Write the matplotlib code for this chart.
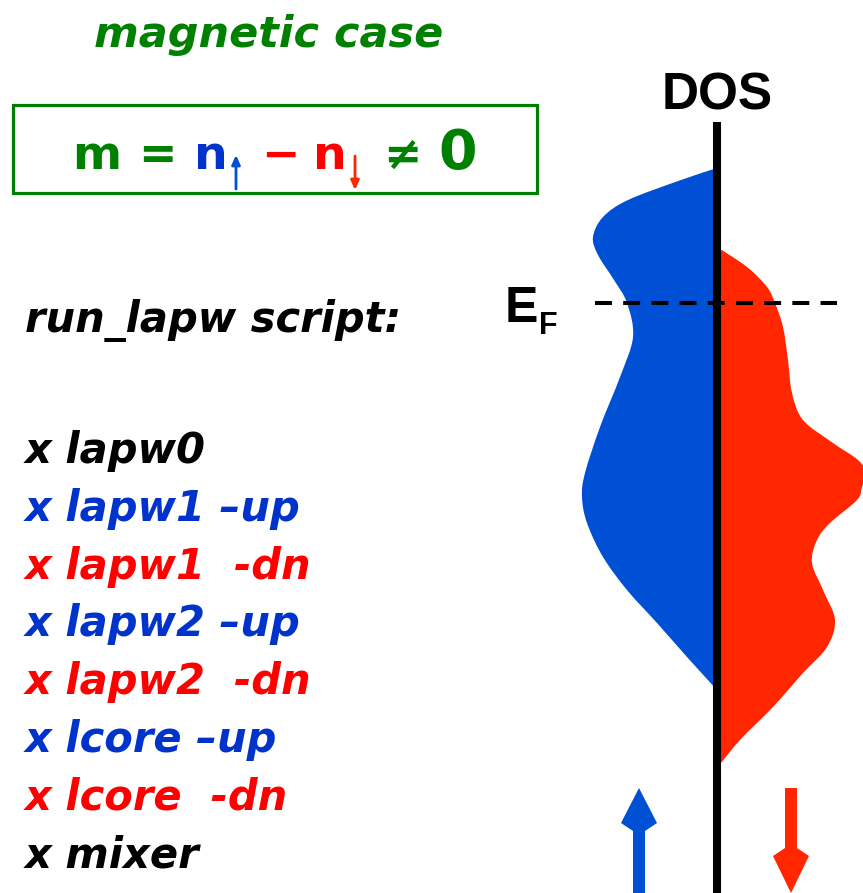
import matplotlib

matplotlib.use("Agg")
import matplotlib.pyplot as plt  # noqa: E402
import numpy as np  # noqa: E402
from matplotlib.patches import PathPatch, Polygon, Rectangle  # noqa: E402
from matplotlib.path import Path  # noqa: E402

GREEN = "#008000"
TXT_BLUE = "#0033cc"
TXT_RED = "#ff0000"
DOS_BLUE = "#0050d5"
DOS_RED = "#ff2600"

# spin-up DOS (drawn to the left), energy relative to E_F
up_energy = [1.35, 1.23, 1.03, 0.86, 0.66, 0.48, 0.23, 0.00, -0.34, -0.74, -1.24,
             -1.70, -1.94, -2.20, -2.54, -2.87, -3.20, -3.54, -3.87]
up_dos = [0.00, 0.36, 0.89, 1.14, 1.24, 1.19, 1.03, 0.90, 0.84, 0.97, 1.17,
          1.32, 1.35, 1.30, 1.14, 0.90, 0.60, 0.30, 0.00]

# spin-down DOS (drawn to the right)
dn_energy = [0.56, 0.36, 0.16, 0.00, -0.24, -0.57, -0.90, -1.17, -1.40, -1.57, -1.70,
             -1.84, -1.97, -2.20, -2.37, -2.60, -2.87, -3.17, -3.44, -3.70, -4.04,
             -4.37, -4.65]
dn_dos = [0.00, 0.30, 0.50, 0.58, 0.66, 0.71, 0.75, 0.86, 1.16, 1.41, 1.49,
          1.45, 1.40, 1.13, 1.00, 0.95, 1.06, 1.18, 1.10, 0.86, 0.56,
          0.23, 0.00]

steps = ["x lapw0", "x lapw1 \u2013up", "x lapw1  -dn", "x lapw2 \u2013up",
         "x lapw2  -dn", "x lcore \u2013up", "x lcore  -dn", "x mixer"]
step_colors = ["black", TXT_BLUE, TXT_RED, TXT_BLUE, TXT_RED, TXT_BLUE, TXT_RED, "black"]


def smooth_lobe(xs, ys):
    # closed outline: smooth bezier through the points, back along the axis
    pts = np.column_stack([xs, ys])
    verts = [pts[0]]
    codes = [Path.MOVETO]
    n = len(pts)
    for i in range(n - 1):
        p_prev = pts[max(i - 1, 0)]
        p0, p1 = pts[i], pts[i + 1]
        p_next = pts[min(i + 2, n - 1)]
        verts += [p0 + (p1 - p_prev) / 6, p1 - (p_next - p0) / 6, p1]
        codes += [Path.CURVE4] * 3
    verts += [(0, ys[-1]), (0, ys[0]), pts[0]]
    codes += [Path.LINETO, Path.LINETO, Path.CLOSEPOLY]
    return Path(verts, codes)


def block_arrow(axis, x, tail, tip, color, shaft=0.12, head_w=0.36, head_l=0.35, notch=0.08):
    s = np.sign(tip - tail)
    back = tip - s * head_l
    inner = back - s * notch
    hw, sw = head_w / 2, shaft / 2
    outline = [(x, tip), (x + hw, back), (x + sw, inner), (x + sw, tail),
               (x - sw, tail), (x - sw, inner), (x - hw, back)]
    axis.add_patch(Polygon(outline, closed=True, color=color, lw=0))


W, H = 863, 893
fig = plt.figure(figsize=(W / 100, H / 100), dpi=100)
fig.patch.set_facecolor("white")

# left side: text in pixel coordinates
ax = fig.add_axes([0, 0, 1, 1])
ax.set_xlim(0, W)
ax.set_ylim(H, 0)
ax.axis("off")

hand = dict(family="DejaVu Sans", weight="bold", style="italic")
ax.text(269, 47, "magnetic case", color=GREEN, fontsize=31, ha="center", va="baseline", **hand)

ax.add_patch(Rectangle((13, 105), 524, 88, fill=False, edgecolor=GREEN, linewidth=2.3))
eq = dict(family="DejaVu Sans", weight="bold", ha="center", va="baseline")
ax.text(97, 169, "m", color=GREEN, fontsize=34, **eq)
ax.text(157, 169, "=", color=GREEN, fontsize=33, **eq)
ax.text(211, 169, "n", color=TXT_BLUE, fontsize=34, **eq)
ax.text(280, 169, "\u2212", color=TXT_RED, fontsize=33, **eq)
ax.text(330, 169, "n", color=TXT_RED, fontsize=34, **eq)
ax.text(402, 169, "\u2260", color=GREEN, fontsize=33, **eq)
ax.text(458, 169, "0", color=GREEN, fontsize=40, **eq)
ax.annotate("", xy=(236, 155), xytext=(236, 189),
            arrowprops=dict(arrowstyle="-|>,head_length=0.55,head_width=0.25",
                            color=DOS_BLUE, lw=2.0, shrinkA=0, shrinkB=0))
ax.annotate("", xy=(355, 190), xytext=(355, 156),
            arrowprops=dict(arrowstyle="-|>,head_length=0.55,head_width=0.25",
                            color=DOS_RED, lw=2.0, shrinkA=0, shrinkB=0))

ax.text(25, 332, "run_lapw script:", color="black", fontsize=30, ha="left", va="baseline", **hand)
for i, (label, col) in enumerate(zip(steps, step_colors)):
    ax.text(25, 463 + 57.8 * i, label, color=col, fontsize=30, ha="left", va="baseline", **hand)

ax.text(505, 322, "E", color="black", fontsize=36, family="Liberation Sans", weight="bold",
        ha="left", va="baseline")
ax.text(539, 334, "F", color="black", fontsize=22, family="Liberation Sans", weight="bold",
        ha="left", va="baseline")
ax.text(717, 109, "DOS", color="black", fontsize=37, family="Liberation Sans", weight="bold",
        ha="center", va="baseline")

# right side: DOS axes, 1 unit = 100 px, E_F at 0
dax = fig.add_axes([560 / W, 0, 303 / W, 1])
dax.set_xlim(-1.57, 1.46)
dax.set_ylim(-5.90, 3.03)
dax.axis("off")

dax.add_patch(PathPatch(smooth_lobe([-d for d in up_dos], up_energy), color=DOS_BLUE, lw=0))
dax.add_patch(PathPatch(smooth_lobe(dn_dos, dn_energy), color=DOS_RED, lw=0))
dax.hlines(0, -1.22, 1.20, color="black", lw=2.9, linestyles=(0, (4.2, 2.8)))
dax.vlines(0, -6.0, 1.81, color="black", lw=5.8)

block_arrow(dax, -0.78, -6.0, -4.85, DOS_BLUE)
block_arrow(dax, 0.74, -4.85, -5.90, DOS_RED, head_l=0.37)

fig.savefig("out.png", dpi=100, facecolor="white")
